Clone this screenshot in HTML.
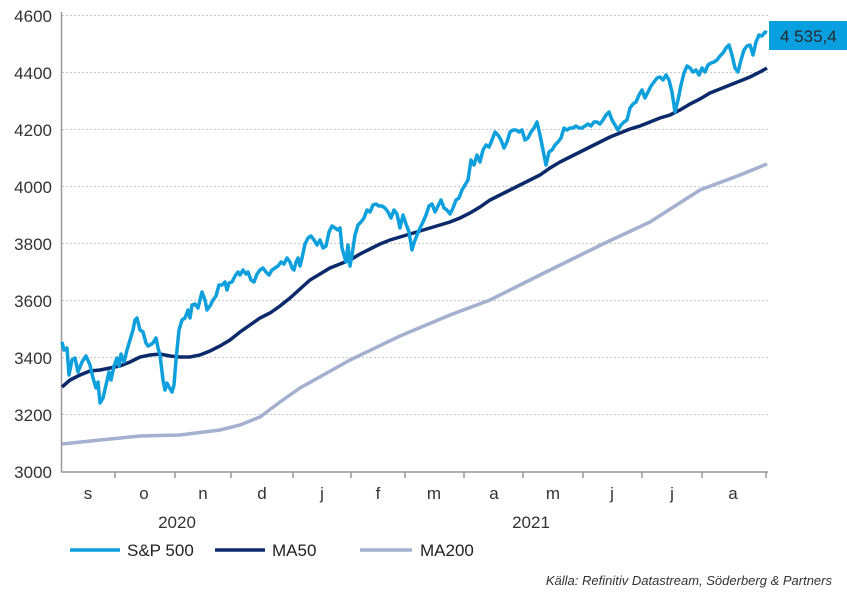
<!DOCTYPE html><html><head><meta charset="utf-8"><style>body{margin:0;background:#fff}svg{display:block;font-family:"Liberation Sans",sans-serif}</style></head><body>
<svg width="847" height="592" viewBox="0 0 847 592">
<g stroke="#c8c8c8" stroke-dasharray="2,2" stroke-width="1">
<line x1="62" x2="768" y1="15.5" y2="15.5"/><line x1="62" x2="768" y1="72.5" y2="72.5"/><line x1="62" x2="768" y1="129.5" y2="129.5"/><line x1="62" x2="768" y1="186.5" y2="186.5"/><line x1="62" x2="768" y1="243.5" y2="243.5"/><line x1="62" x2="768" y1="300.5" y2="300.5"/><line x1="62" x2="768" y1="357.5" y2="357.5"/><line x1="62" x2="768" y1="414.5" y2="414.5"/></g>
<g stroke="#999" stroke-width="1.5"><line x1="61.5" x2="61.5" y1="12" y2="472"/><line x1="61" x2="768" y1="472" y2="472"/>
<line x1="115" x2="115" y1="472" y2="478"/><line x1="175" x2="175" y1="472" y2="478"/><line x1="231" x2="231" y1="472" y2="478"/><line x1="293" x2="293" y1="472" y2="478"/><line x1="351" x2="351" y1="472" y2="478"/><line x1="405" x2="405" y1="472" y2="478"/><line x1="464" x2="464" y1="472" y2="478"/><line x1="523" x2="523" y1="472" y2="478"/><line x1="583" x2="583" y1="472" y2="478"/><line x1="642" x2="642" y1="472" y2="478"/><line x1="702" x2="702" y1="472" y2="478"/><line x1="766" x2="766" y1="472" y2="478"/></g>
<g fill="#333" font-size="17" text-anchor="end"><text x="52" y="22">4600</text><text x="52" y="79">4400</text><text x="52" y="136">4200</text><text x="52" y="193">4000</text><text x="52" y="250">3800</text><text x="52" y="307">3600</text><text x="52" y="364">3400</text><text x="52" y="421">3200</text><text x="52" y="478">3000</text></g>
<g fill="#333" font-size="17" text-anchor="middle"><text x="88" y="499">s</text><text x="144" y="499">o</text><text x="203" y="499">n</text><text x="262" y="499">d</text><text x="322" y="499">j</text><text x="378" y="499">f</text><text x="434" y="499">m</text><text x="494" y="499">a</text><text x="553" y="499">m</text><text x="612" y="499">j</text><text x="672" y="499">j</text><text x="733" y="499">a</text><text x="177" y="528">2020</text><text x="531" y="528">2021</text></g>
<polyline fill="none" stroke="#a3b0cf" stroke-width="3.5" points="62,444 100,440 140,436 180,435 220,430 240,425 260,417 280,402 300,388 350,360 400,336 450,315 490,300 550,270 605,243 650,222 700,190 740,175 767,164"/>
<polyline fill="none" stroke="#0b2a6b" stroke-width="3.5" points="62,387 70,380 80,375 90,371 100,370 110,368 120,366 130,362 140,357 150,355 160,354 170,356 180,357 190,357 200,355 210,351 220,346 230,340 240,332 250,325 260,318 270,313 280,306 290,298 300,289 310,280 320,274 330,268 340,264 350,260 360,254 370,249 380,244 390,240 400,237 410,234 420,231 430,228 440,225 450,222 460,218 470,213 480,207 490,200 500,195 510,190 520,185 530,180 540,175 550,168 560,162 570,157 580,152 590,147 600,142 610,137 620,133 630,129 640,126 650,122 660,118 670,115 680,110 690,104 700,99 710,93 720,89 730,85 740,81 750,77 760,72 767,68"/>
<polyline fill="none" stroke="#0ea0dd" stroke-width="3.5" stroke-linejoin="round" points="62,342 64,350 67,348 69,375 72,360 75,358 78,372 82,362 86,356 90,365 93,378 96,388 98,382 100,403 103,398 106,385 109,372 111,380 114,366 117,358 119,366 121,354 124,362 127,350 130,340 133,330 135,320 137,318 140,330 143,332 146,343 148,346 150,345 153,343 156,338 158,348 160,355 163,380 165,390 167,383 169,387 172,392 174,385 176,360 179,330 182,320 185,318 188,310 190,318 192,305 195,304 198,308 200,300 202,292 205,300 207,310 210,306 213,300 216,296 219,285 222,285 225,282 227,290 229,283 232,282 235,276 238,272 240,275 243,270 246,274 248,272 251,280 254,282 257,274 260,270 263,268 266,272 269,275 272,270 275,268 278,266 281,262 284,264 287,258 290,262 292,268 294,270 296,262 298,258 300,266 302,258 305,244 308,238 311,236 314,240 317,245 320,240 323,248 326,246 329,232 332,226 335,228 338,230 340,228 342,248 344,255 346,262 348,245 350,266 352,255 355,235 358,225 361,222 364,218 367,210 370,212 373,205 376,204 379,206 382,206 385,208 388,212 391,218 394,210 397,214 400,228 403,215 406,224 409,232 412,250 414,243 417,235 420,228 423,222 426,215 429,206 432,204 435,212 438,206 441,200 444,208 447,210 450,214 453,208 456,200 459,198 462,190 465,185 468,180 471,160 474,165 477,155 480,162 483,150 486,145 489,147 492,140 495,132 498,135 501,140 504,148 507,142 510,132 513,130 516,130 519,132 522,130 525,140 528,138 531,132 534,128 537,122 540,135 543,150 546,165 549,152 552,150 555,145 558,142 561,138 564,128 567,130 570,128 573,128 576,126 579,128 582,128 585,126 588,124 591,126 594,122 597,122 600,124 603,120 606,115 609,112 612,120 615,125 618,130 621,125 624,122 627,120 630,108 633,104 636,102 639,95 642,90 645,98 648,92 651,86 654,82 657,78 660,77 663,80 666,75 669,80 672,92 675,112 678,100 681,85 684,73 687,66 690,68 693,72 696,70 699,75 702,68 705,72 708,65 711,63 714,62 717,60 720,56 723,53 726,48 729,45 732,55 735,68 738,72 741,60 744,50 747,46 750,45 753,55 756,42 759,35 762,36 765,32 767,33"/>
<rect x="769" y="21" width="78" height="29" fill="#079fe0"/>
<text x="780" y="42" font-size="17" fill="#2a2a2a">4 535,4</text>
<line x1="70" x2="120" y1="550" y2="550" stroke="#0ea0dd" stroke-width="3.5"/><text x="127" y="556" font-size="17" fill="#222">S&amp;P 500</text>
<line x1="215" x2="265" y1="550" y2="550" stroke="#0b2a6b" stroke-width="3.5"/><text x="272" y="556" font-size="17" fill="#222">MA50</text>
<line x1="360" x2="412" y1="550" y2="550" stroke="#a3b0cf" stroke-width="3.5"/><text x="420" y="556" font-size="17" fill="#222">MA200</text>
<text x="832" y="585" font-size="13" font-style="italic" fill="#333" text-anchor="end">Källa: Refinitiv Datastream, Söderberg &amp; Partners</text>
</svg></body></html>
